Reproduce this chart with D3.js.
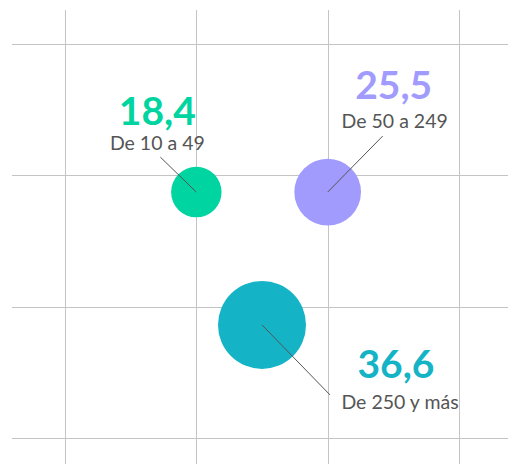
<!DOCTYPE html>
<html>
<head>
<meta charset="utf-8">
<script src="https://cdn.jsdelivr.net/npm/d3@7"></script>
<style>
  body { margin: 0; background: #fff; }
  svg { display: block; }
</style>
</head>
<body>
<div id="wrapper"></div>
<script>
// datos
const categories = ["De 10 a 49", "De 50 a 249", "De 250 y más"];
const values = [18.4, 25.5, 36.6];
const colPos = [1, 2, 1.5];        // posición en la rejilla (columnas)
const rowPos = [1.13, 1.13, 2.14]; // posición en la rejilla (filas)
const gridTicks = [0, 1, 2, 3];

const colors = ["#00d4a0", "#a29bfe", "#14b3c6"];

// offsets de etiquetas respecto al centro de la burbuja
const labelLayout = [
  { vx: -39, vy: -67, cx: -39, cy: -42, lx: -36, ly: -35 },
  { vx: 66, vy: -93, cx: 67, cy: -64, lx: 55, ly: -56 },
  { vx: 134, vy: 53, cx: 138, cy: 84, lx: 68, ly: 70 },
];

const dimensions = { width: 508, height: 464 };

const data = categories.map((c, i) => ({
  category: c,
  value: values[i],
  col: colPos[i],
  row: rowPos[i],
  color: colors[i],
  layout: labelLayout[i],
}));

const svg = d3
  .select("#wrapper")
  .append("svg")
  .attr("width", dimensions.width)
  .attr("height", dimensions.height);

const xScale = d3.scaleLinear().domain([0, 3]).range([65, 459]);
const yScale = d3.scaleLinear().domain([0, 3]).range([43.5, 438]);
const rScale = d3.scaleSqrt().domain([3.7, 36.6]).range([0, 44]);

// rejilla
svg
  .append("g")
  .selectAll("line")
  .data(gridTicks)
  .join("line")
  .attr("x1", (d) => Math.round(xScale(d)) + 0.5)
  .attr("x2", (d) => Math.round(xScale(d)) + 0.5)
  .attr("y1", 10)
  .attr("y2", dimensions.height)
  .attr("stroke", "#c4c4c4")
  .attr("stroke-width", 1);

svg
  .append("g")
  .selectAll("line")
  .data(gridTicks)
  .join("line")
  .attr("x1", 12)
  .attr("x2", dimensions.width)
  .attr("y1", (d) => Math.round(yScale(d)) + 0.5)
  .attr("y2", (d) => Math.round(yScale(d)) + 0.5)
  .attr("stroke", "#c4c4c4")
  .attr("stroke-width", 1);

// burbujas
const groups = svg
  .selectAll(".bubble")
  .data(data)
  .join("g")
  .attr("class", "bubble")
  .attr("transform", (d) => `translate(${xScale(d.col)},${yScale(d.row)})`);

groups
  .append("circle")
  .attr("r", (d) => rScale(d.value))
  .attr("fill", (d) => d.color);

groups
  .append("line")
  .attr("x1", 0)
  .attr("y1", 0)
  .attr("x2", (d) => d.layout.lx)
  .attr("y2", (d) => d.layout.ly)
  .attr("stroke", "#555")
  .attr("stroke-width", 1);

groups
  .append("text")
  .attr("x", (d) => d.layout.vx)
  .attr("y", (d) => d.layout.vy)
  .attr("text-anchor", "middle")
  .style("font-family", "Lato, sans-serif")
  .style("font-weight", "bold")
  .style("font-size", "39px")
  .style("fill", (d) => d.color)
  .text((d) => d3.format(".1f")(d.value).replace(".", ","));

groups
  .append("text")
  .attr("x", (d) => d.layout.cx)
  .attr("y", (d) => d.layout.cy)
  .attr("text-anchor", "middle")
  .style("font-family", "Lato, sans-serif")
  .style("font-size", "19.5px")
  .style("fill", "#555")
  .text((d) => d.category);
</script>
</body>
</html>
